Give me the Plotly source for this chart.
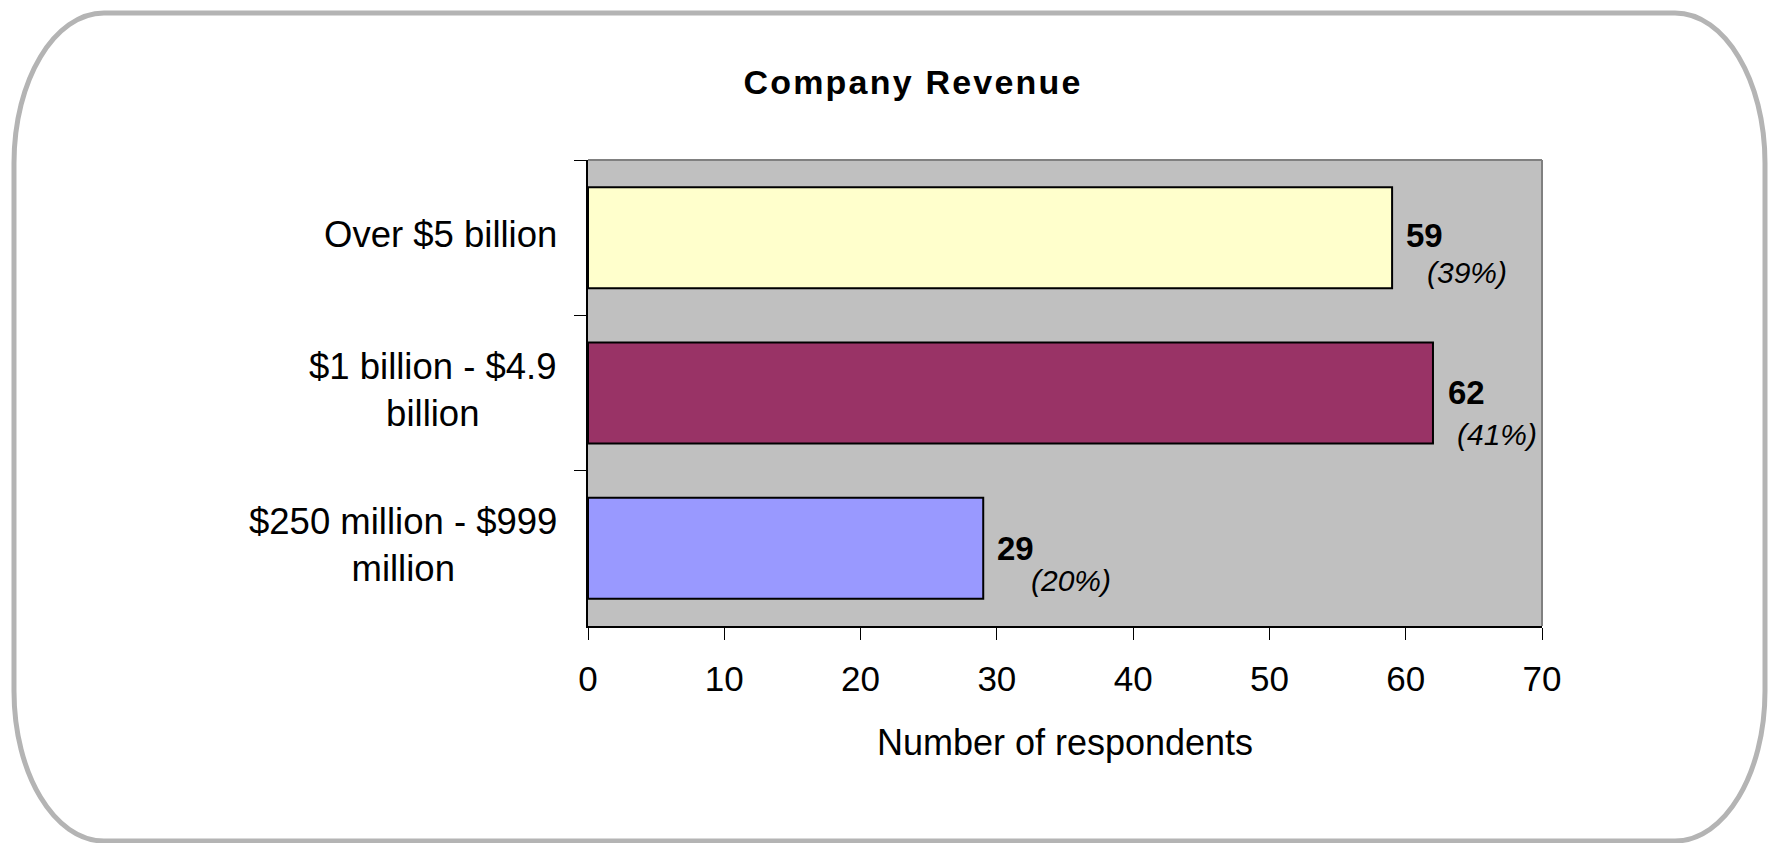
import plotly.graph_objects as go

# Survey data: company revenue bands (top to bottom as displayed)
categories = ["Over $5 billion", "$1 billion - $4.9<br>billion", "$250 million - $999<br>million"]
respondents = [59, 62, 29]
percent = [39, 41, 20]
x_ticks = [0, 10, 20, 30, 40, 50, 60, 70]

# Styling
bar_colors = ["#FFFFCC", "#993366", "#9999FF"]
count_dx = [12, 13, 12]
count_dy = [2, 1, 0]
pct_dx = [33, 22, 46]
pct_dy = [-35, -41, -32]

W, H = 1769, 843
ML, MR, MT, MB = 588, 227, 160, 217
PW = W - ML - MR
PH = H - MT - MB


def px_x(p):
    return (p - ML) / PW


def px_y(p):
    return (H - MB - p) / PH


FONT = "Liberation Sans, Arial, sans-serif"

fig = go.Figure(
    go.Bar(
        y=categories,
        x=respondents,
        orientation="h",
        width=0.65,
        marker=dict(color=bar_colors, line=dict(color="#000000", width=2)),
        hoverinfo="skip",
    )
)

annotations = []
for i, cat in enumerate(categories):
    # category label, centred lines, right-aligned against the axis
    annotations.append(dict(
        x=0, xref="paper", y=cat, yref="y",
        xanchor="right", yanchor="middle", align="center",
        xshift=-29, yshift=3, showarrow=False,
        text=cat, font=dict(family=FONT, size=36.5, color="#000000"),
    ))
    # count label
    annotations.append(dict(
        x=respondents[i], xref="x", y=cat, yref="y",
        xanchor="left", yanchor="middle",
        xshift=count_dx[i], yshift=count_dy[i], showarrow=False,
        text=f"<b>{respondents[i]}</b>",
        font=dict(family=FONT, size=33, color="#000000"),
    ))
    # percentage label
    annotations.append(dict(
        x=respondents[i], xref="x", y=cat, yref="y",
        xanchor="left", yanchor="middle",
        xshift=pct_dx[i], yshift=pct_dy[i], showarrow=False,
        text=f"<i>({percent[i]}%)</i>",
        font=dict(family=FONT, size=30, color="#000000"),
    ))

# Rounded outer frame (pixel geometry converted to paper units)
L, R, T, B = 14, 1765, 13, 841
rx, ry = 90, 150
k = 0.5523
pts = [
    ("M", [(L + rx, T)]),
    ("L", [(R - rx, T)]),
    ("C", [(R - rx + k * rx, T), (R, T + ry - k * ry), (R, T + ry)]),
    ("L", [(R, B - ry)]),
    ("C", [(R, B - ry + k * ry), (R - rx + k * rx, B), (R - rx, B)]),
    ("L", [(L + rx, B)]),
    ("C", [(L + rx - k * rx, B), (L, B - ry + k * ry), (L, B - ry)]),
    ("L", [(L, T + ry)]),
    ("C", [(L, T + ry - k * ry), (L + rx - k * rx, T), (L + rx, T)]),
]
path = ""
for cmd, coords in pts:
    path += cmd + " ".join(f"{px_x(a):.5f},{px_y(b):.5f}" for a, b in coords) + " "
path += "Z"

shapes = [
    dict(type="path", path=path, xref="paper", yref="paper",
         line=dict(color="#B4B4B4", width=5), fillcolor="rgba(0,0,0,0)", layer="below"),
    dict(type="line", xref="paper", yref="paper", x0=0, x1=1, y0=1, y1=1,
         line=dict(color="#808080", width=2), layer="above"),
    dict(type="line", xref="paper", yref="paper", x0=1, x1=1, y0=0, y1=1,
         line=dict(color="#808080", width=2), layer="above"),
]

fig.update_layout(
    width=W, height=H,
    margin=dict(l=ML, r=MR, t=MT, b=MB, pad=0),
    paper_bgcolor="#FFFFFF",
    plot_bgcolor="#C0C0C0",
    showlegend=False,
    title=dict(
        text="<b>Company Revenue</b>",
        x=913 / W, xanchor="center",
        y=1 - 82 / H, yanchor="middle",
        font=dict(family=FONT, size=34, color="#000000"),
    ),
    xaxis=dict(
        range=[0, 70], tickvals=x_ticks, ticktext=[str(v) for v in x_ticks],
        ticks="outside", ticklen=12, tickwidth=1, tickcolor="#000000",
        showline=True, linecolor="#000000", linewidth=2,
        showgrid=False, zeroline=False,
        tickfont=dict(family=FONT, size=35, color="#000000"),
        ticklabelstandoff=9,
        title=dict(text="Number of respondents", standoff=33,
                   font=dict(family=FONT, size=36, color="#000000")),
        automargin=False, fixedrange=True,
    ),
    yaxis=dict(
        type="category", autorange="reversed",
        showticklabels=False,
        ticks="outside", ticklen=12, tickwidth=1, tickcolor="#000000",
        tickson="boundaries",
        showline=True, linecolor="#000000", linewidth=2,
        showgrid=False, zeroline=False,
        automargin=False, fixedrange=True,
    ),
    annotations=annotations,
    shapes=shapes,
)

title_spacing = (
    "var t=document.querySelectorAll('.gtitle');"
    "t.forEach(function(e){e.setAttribute('letter-spacing','2.2px');});"
)

fig.write_html("out.html", config={"displayModeBar": False}, post_script=title_spacing)
